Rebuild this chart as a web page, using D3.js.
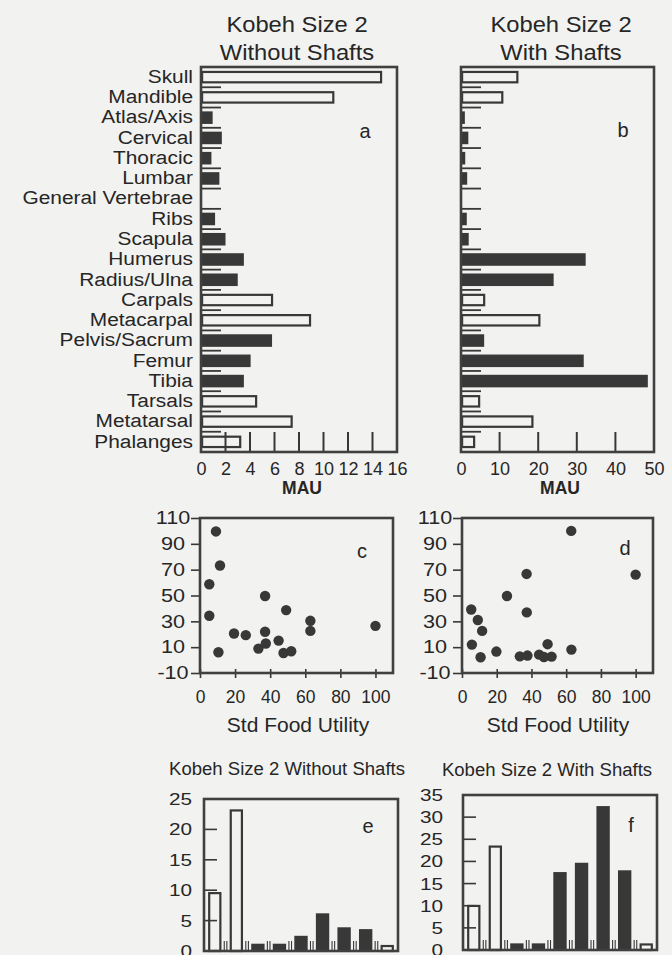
<!DOCTYPE html>
<html>
<head>
<meta charset="utf-8">
<script src="https://cdn.jsdelivr.net/npm/d3@7"></script>
<style>
  body { margin: 0; background: #f2f2f0; }
  svg { display: block; font-family: "Liberation Sans", Arial, Helvetica, sans-serif; }
  text { fill: #262626; }
</style>
</head>
<body>
<div id="chart"></div>
<script>
// skeletal elements, panels a and b
const elements = ["Skull", "Mandible", "Atlas/Axis", "Cervical", "Thoracic", "Lumbar",
  "General Vertebrae", "Ribs", "Scapula", "Humerus", "Radius/Ulna", "Carpals", "Metacarpal",
  "Pelvis/Sacrum", "Femur", "Tibia", "Tarsals", "Metatarsal", "Phalanges"]
// "o" = open bar, "f" = filled bar
const elementType = ["o", "o", "f", "f", "f", "f", "f", "f", "f", "f", "f", "o", "o", "f", "f", "f", "o", "o", "o"]
const mauWithout = [14.7, 10.8, 0.95, 1.7, 0.85, 1.5, 0, 1.15, 2.0, 3.5, 3.0, 5.8, 8.9, 5.8, 4.05, 3.5, 4.5, 7.4, 3.2]
const mauWith = [14.6, 10.7, 1.0, 1.9, 1.1, 1.6, 0, 1.5, 2.0, 32.3, 24, 6, 20.3, 6, 31.8, 48.4, 4.7, 18.5, 3.4]
const ticksA = [0, 2, 4, 6, 8, 10, 12, 14, 16]
const ticksB = [0, 10, 20, 30, 40, 50]

// scatter panels c and d (Std Food Utility vs %MAU)
const fuC = [5.3, 5.3, 9.1, 10.5, 11.4, 19.4, 26.1, 33.3, 37.1, 37.1, 37.5, 44.8, 47.6, 49.1, 52, 62.9, 62.9, 100]
const pctC = [58.7, 34.3, 99.6, 6.1, 73.2, 20.6, 19.3, 8.9, 49.6, 21.9, 12.8, 15.1, 5.5, 38.7, 6.8, 30.4, 22.6, 26.5]
const fuD = [5.3, 5.7, 9.1, 10.7, 11.6, 19.8, 25.9, 33.3, 37.2, 37.3, 37.7, 44.4, 47.2, 49.3, 51.6, 62.9, 63, 100]
const pctD = [39.2, 12.0, 31.0, 2.2, 22.6, 6.6, 49.6, 2.9, 66.7, 36.9, 3.5, 4.2, 2.4, 12.3, 2.7, 100, 8.1, 66.2]
const scatterX = [0, 20, 40, 60, 80, 100]
const scatterY = [-10, 10, 30, 50, 70, 90, 110]

// bottom panels e and f
const bins = ["1", "2", "3", "4", "5", "6", "7", "8", "9"]
const binType = ["o", "o", "f", "f", "f", "f", "f", "f", "o"]
const countWithout = [9.7, 23.3, 1.2, 1.2, 2.5, 6.2, 3.9, 3.6, 1.0]
const countWith = [10.2, 23.6, 1.5, 1.5, 17.6, 19.7, 32.5, 18, 1.5]
const ticksE = [0, 5, 10, 15, 20, 25]
const ticksF = [0, 5, 10, 15, 20, 25, 30, 35]

const ink = "#383838", frameInk = "#404040", paper = "#f2f2f0"
const plain = d => String(d)   // keep the ascii hyphen for -10

var svg = d3.select("#chart").append("svg")
  .attr("width", 672)
  .attr("height", 955)

// widen text horizontally (the scan is stretched)
function stretch(sel, k, origin) {
  sel.style("transform-box", "fill-box")
    .style("transform-origin", origin)
    .style("transform", "scaleX(" + k + ")")
}

function label(x, y, txt, size, k, weight) {
  var t = svg.append("text")
    .attr("x", x).attr("y", y)
    .attr("text-anchor", "middle")
    .style("font-size", size + "px")
    .style("font-weight", weight || "normal")
    .text(txt)
  if (k) stretch(t, k, "center")
  return t
}

function frame(x0, x1, y0, y1) {
  svg.append("rect")
    .attr("x", x0).attr("y", y0)
    .attr("width", x1 - x0).attr("height", y1 - y0)
    .attr("fill", "none")
    .attr("stroke", frameInk)
    .attr("stroke-width", 2.6)
}

function drawBar(sel, open) {
  sel.attr("fill", open ? paper : ink)
    .attr("stroke", ink)
    .attr("stroke-width", open ? 2.2 : 0)
}

// horizontal bar panels
function hbars(x0, x1, y0, y1, values, ticks, showLabels) {
  var x = d3.scaleLinear().domain([0, ticks[ticks.length - 1]]).range([x0, x1])
  var y = d3.scaleBand().domain(elements).range([y0, y1]).paddingInner(0.38).paddingOuter(0.19)

  elements.forEach((el, i) => {
    if (values[i] <= 0) return
    var open = elementType[i] === "o"
    var inset = open ? 1.1 : 0
    svg.append("rect")
      .attr("x", x(0) + inset)
      .attr("y", y(el) + inset)
      .attr("width", Math.max(0, x(values[i]) - x(0) - inset))
      .attr("height", y.bandwidth() - 2 * inset)
      .call(drawBar, open)
  })

  // row separators on the left
  elements.slice(1).forEach(el => {
    var yb = y(el) - y.step() * y.paddingInner() / 2
    svg.append("line")
      .attr("x1", x0).attr("x2", x0 + 20)
      .attr("y1", yb).attr("y2", yb)
      .attr("stroke", ink).attr("stroke-width", 1.8)
  })
  // value ticks up from the bottom
  ticks.slice(1, -1).forEach(t => {
    svg.append("line")
      .attr("x1", x(t)).attr("x2", x(t))
      .attr("y1", y1).attr("y2", y1 - 20)
      .attr("stroke", ink).attr("stroke-width", 2)
  })

  frame(x0, x1, y0, y1)

  var xAxis = svg.append("g")
    .attr("transform", "translate(0," + y1 + ")")
    .call(d3.axisBottom(x).tickValues(ticks).tickFormat(plain).tickSize(0).tickPadding(10))
  xAxis.select(".domain").remove()
  xAxis.selectAll("text").style("font-size", "18px").style("fill", "#262626")

  if (showLabels) {
    var yAxis = svg.append("g")
      .attr("transform", "translate(" + x0 + ",0)")
      .call(d3.axisLeft(y).tickSize(0).tickPadding(8))
    yAxis.select(".domain").remove()
    yAxis.selectAll("text")
      .style("font-size", "18px").style("fill", "#262626")
      .call(stretch, 1.16, "right center")
  }
}

hbars(201, 397, 67, 452, mauWithout, ticksA, true)
hbars(461, 654, 67, 452, mauWith, ticksB, false)

label(297, 32, "Kobeh Size 2", 22, 1.08)
label(297, 60, "Without Shafts", 22, 1.08)
label(561, 32, "Kobeh Size 2", 22, 1.08)
label(561, 60, "With Shafts", 22, 1.08)
label(302, 494, "MAU", 17.5, null, "bold")
label(560, 494, "MAU", 17.5, null, "bold")
label(365, 138, "a", 20)
label(623, 137, "b", 20)

// scatter panels
function scatter(x0, x1, xs, ys) {
  var y0 = 518, y1 = 673
  var x = d3.scaleLinear().domain([0, 110]).range([x0, x1])
  var y = d3.scaleLinear().domain([-10, 110]).range([y1, y0])

  var xAxis = svg.append("g")
    .attr("transform", "translate(0," + y1 + ")")
    .call(d3.axisBottom(x).tickValues(scatterX).tickFormat(plain).tickSize(9))
  xAxis.select(".domain").remove()
  xAxis.selectAll(".tick line").attr("y1", -4).attr("y2", 5).attr("stroke", ink).attr("stroke-width", 1.6)
  xAxis.selectAll("text").attr("y", 18).style("font-size", "17.5px").style("fill", "#262626")

  var yAxis = svg.append("g")
    .attr("transform", "translate(" + x0 + ",0)")
    .call(d3.axisLeft(y).tickValues(scatterY).tickFormat(plain).tickSize(9))
  yAxis.select(".domain").remove()
  yAxis.selectAll(".tick line").attr("stroke", ink).attr("stroke-width", 1.6)
  yAxis.selectAll("text")
    .attr("x", -27).attr("text-anchor", "middle")
    .style("font-size", "18px").style("fill", "#262626")
    .call(stretch, 1.2, "center")

  frame(x0, x1, y0, y1)

  svg.append("g").selectAll("circle")
    .data(xs.map((v, i) => [v, ys[i]]))
    .join("circle")
    .attr("cx", d => x(d[0]))
    .attr("cy", d => y(d[1]))
    .attr("r", 5.2)
    .attr("fill", ink)
}

scatter(200, 393, fuC, pctC)
scatter(462, 653, fuD, pctD)
label(298, 732, "Std Food Utility", 21)
label(558, 732, "Std Food Utility", 21)
label(362, 558, "c", 20)
label(625, 555, "d", 20)

// vertical bar panels
function vbars(x0, x1, y0, y1, values, ticks, pad) {
  var x = d3.scaleBand().domain(bins).range([x0, x1]).paddingInner(0.38).paddingOuter(0.19)
  var y = d3.scaleLinear().domain([0, ticks[ticks.length - 1]]).range([y1, y0])

  bins.forEach((b, i) => {
    var open = binType[i] === "o"
    var inset = open ? 1.1 : 0
    svg.append("rect")
      .attr("x", x(b) + inset)
      .attr("y", y(values[i]) + inset)
      .attr("width", x.bandwidth() - 2 * inset)
      .attr("height", Math.max(0, y(0) - y(values[i]) - inset))
      .call(drawBar, open)
  })

  // category separators at the bottom
  bins.slice(1).forEach(b => {
    var xb = x(b) - x.step() * x.paddingInner() / 2
    ;[-1.3, 1.3].forEach(o => {
      svg.append("line")
        .attr("x1", xb + o).attr("x2", xb + o)
        .attr("y1", y1).attr("y2", y1 - 10)
        .attr("stroke", ink).attr("stroke-width", 1.1)
    })
  })
  // value ticks inside the left edge
  ticks.slice(1, -1).forEach(t => {
    svg.append("line")
      .attr("x1", x0).attr("x2", x0 + 13)
      .attr("y1", y(t)).attr("y2", y(t))
      .attr("stroke", ink).attr("stroke-width", 1.6)
  })

  frame(x0, x1, y0, y1)

  var yAxis = svg.append("g")
    .attr("transform", "translate(" + x0 + ",0)")
    .call(d3.axisLeft(y).tickValues(ticks).tickFormat(plain).tickSize(0).tickPadding(pad))
  yAxis.select(".domain").remove()
  yAxis.selectAll("text")
    .style("font-size", "17px").style("fill", "#262626")
    .call(stretch, 1.22, "right center")
}

vbars(204, 398, 799, 951, countWithout, ticksE, 12)
vbars(463, 657, 795, 950, countWith, ticksF, 20)
label(287, 775, "Kobeh Size 2 Without Shafts", 18, 1.03)
label(547, 776, "Kobeh Size 2 With Shafts", 18, 1.03)
label(368, 833, "e", 20)
label(631, 832, "f", 20)
</script>
</body>
</html>
